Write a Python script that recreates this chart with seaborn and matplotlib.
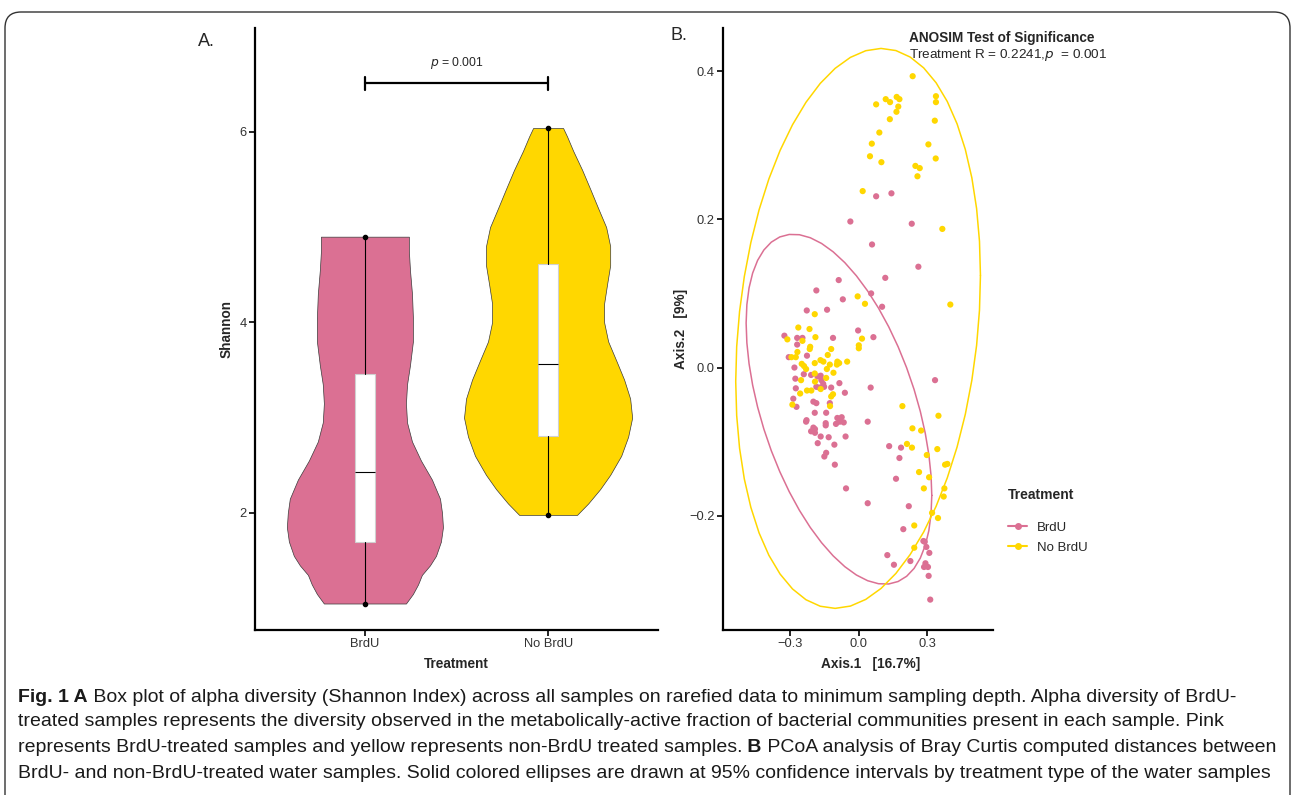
import numpy as np
import pandas as pd
import matplotlib
matplotlib.use("Agg")
import matplotlib.pyplot as plt
import seaborn as sns
from matplotlib.patches import FancyBboxPatch
from matplotlib.lines import Line2D
from matplotlib.transforms import IdentityTransform

# ---------------- Panel A data (Shannon violin profiles + box stats) ----------------
groups = ["BrdU", "No BrdU"]
brdu_levels = [1.05, 1.15, 1.25, 1.35, 1.45, 1.55, 1.70, 1.85, 2.00, 2.15, 2.35, 2.55,
               2.75, 2.95, 3.15, 3.35, 3.55, 3.80, 4.05, 4.30, 4.55, 4.75, 4.90]
brdu_halfwidth = [0.224, 0.262, 0.290, 0.311, 0.355, 0.388, 0.415, 0.426, 0.421, 0.410, 0.366, 0.306,
                  0.257, 0.230, 0.224, 0.230, 0.246, 0.262, 0.262, 0.257, 0.246, 0.240, 0.240]
nobrdu_levels = [1.98, 2.10, 2.25, 2.40, 2.60, 2.80, 3.00, 3.20, 3.40, 3.60, 3.80, 4.00,
                 4.20, 4.40, 4.60, 4.80, 5.00, 5.20, 5.40, 5.60, 5.80, 5.95, 6.04]
nobrdu_halfwidth = [0.158, 0.219, 0.284, 0.339, 0.399, 0.437, 0.459, 0.448, 0.415, 0.372, 0.328, 0.306,
                    0.306, 0.322, 0.339, 0.339, 0.317, 0.273, 0.230, 0.186, 0.137, 0.104, 0.082]
box_min = [1.05, 1.98]
box_q1 = [1.70, 2.81]
box_med = [2.43, 3.56]
box_q3 = [3.46, 4.61]
box_max = [4.90, 6.04]
p_label = "0.001"

# ---------------- Panel B data (PCoA coordinates) ----------------
brdu_ax1 = [0.077, 0.144, -0.036, 0.233, 0.059, 0.262, -0.087, 0.117, -0.069, 0.055, 0.103, -0.185,
            -0.138, -0.227, -0.002, -0.325, -0.269, -0.246, -0.112, 0.065, -0.269, -0.226, -0.306, -0.281,
            -0.240, -0.208, -0.180, -0.166, -0.277, -0.163, -0.155, -0.084, -0.185, -0.172, -0.151, -0.275,
            -0.120, 0.053, 0.335, -0.060, -0.286, -0.198, -0.185, -0.126, -0.272, -0.192, -0.142, -0.093,
            -0.074, -0.082, -0.065, -0.099, -0.144, -0.230, -0.228, -0.144, 0.040, -0.198, -0.208, -0.191,
            -0.191, -0.166, -0.131, -0.057, -0.179, -0.106, 0.134, 0.186, -0.142, -0.150, 0.179, -0.104,
            0.164, -0.055, 0.040, 0.220, 0.196, 0.284, 0.290, 0.297, 0.310, 0.126, 0.227, 0.155,
            0.293, 0.287, 0.304, 0.307, 0.314]
brdu_ax2 = [0.231, 0.235, 0.197, 0.194, 0.166, 0.136, 0.118, 0.121, 0.092, 0.100, 0.082, 0.104,
            0.078, 0.077, 0.050, 0.043, 0.040, 0.040, 0.040, 0.041, 0.031, 0.016, 0.014, 0.000,
            -0.009, -0.010, -0.012, -0.011, -0.015, -0.017, -0.022, -0.021, -0.026, -0.027, -0.026, -0.028,
            -0.027, -0.027, -0.017, -0.034, -0.042, -0.046, -0.048, -0.048, -0.053, -0.061, -0.061, -0.068,
            -0.067, -0.073, -0.074, -0.076, -0.075, -0.073, -0.071, -0.078, -0.073, -0.081, -0.086, -0.088,
            -0.083, -0.093, -0.094, -0.093, -0.102, -0.104, -0.106, -0.108, -0.115, -0.120, -0.122, -0.131,
            -0.150, -0.163, -0.183, -0.187, -0.218, -0.234, -0.235, -0.242, -0.250, -0.253, -0.261, -0.266,
            -0.264, -0.269, -0.269, -0.281, -0.313]
nobrdu_ax1 = [0.237, 0.339, 0.339, 0.167, 0.179, 0.119, 0.138, 0.077, 0.174, 0.166, 0.137, 0.334,
              0.091, 0.058, 0.306, 0.050, 0.338, 0.100, 0.249, 0.268, 0.258, 0.018, 0.367, -0.004,
              0.028, 0.402, -0.192, -0.264, -0.215, -0.312, -0.246, -0.189, 0.015, -0.212, -0.214, 0.001,
              0.001, -0.120, -0.268, -0.275, -0.135, -0.294, -0.167, -0.154, -0.093, -0.085, -0.095, -0.050,
              -0.249, -0.192, -0.239, -0.126, -0.230, -0.139, -0.110, -0.192, -0.252, -0.191, -0.142, -0.226,
              -0.207, -0.166, -0.256, -0.112, -0.120, -0.290, -0.125, 0.192, 0.350, 0.236, 0.274, 0.212,
              0.234, 0.345, 0.299, 0.265, 0.379, 0.389, 0.309, 0.286, 0.376, 0.373, 0.322, 0.348,
              0.244, 0.244]
nobrdu_ax2 = [0.393, 0.366, 0.358, 0.365, 0.362, 0.362, 0.358, 0.355, 0.352, 0.345, 0.335, 0.333,
              0.317, 0.302, 0.301, 0.285, 0.282, 0.277, 0.272, 0.269, 0.258, 0.238, 0.187, 0.096,
              0.086, 0.085, 0.072, 0.054, 0.052, 0.038, 0.036, 0.041, 0.039, 0.028, 0.025, 0.030,
              0.026, 0.025, 0.021, 0.014, 0.017, 0.014, 0.010, 0.008, 0.008, 0.006, 0.004, 0.008,
              0.005, 0.006, 0.002, 0.004, -0.002, -0.002, -0.007, -0.008, -0.017, -0.019, -0.014, -0.031,
              -0.031, -0.029, -0.035, -0.036, -0.039, -0.050, -0.052, -0.052, -0.065, -0.082, -0.085, -0.103,
              -0.108, -0.110, -0.118, -0.141, -0.131, -0.130, -0.148, -0.163, -0.163, -0.174, -0.196, -0.203,
              -0.213, -0.243]
anosim_R = "0.2241"
anosim_p = "0.001"

PINK = "#DB7093"
GOLD = "#FFD700"
colors = {"BrdU": PINK, "No BrdU": GOLD}

sns.set_theme(style="ticks")
plt.rcParams["font.family"] = ["Liberation Sans", "DejaVu Sans"]

W, H = 1292, 795
fig = plt.figure(figsize=(W / 100, H / 100), dpi=100)
fig.patch.set_facecolor("white")


def px_axes(l, t, r, b):
    return fig.add_axes([l / W, 1 - b / H, (r - l) / W, (b - t) / H])


def style_axes(ax):
    for s in ["top", "right"]:
        ax.spines[s].set_visible(False)
    for s in ["left", "bottom"]:
        ax.spines[s].set_linewidth(1.6)
        ax.spines[s].set_color("black")
    ax.tick_params(axis="both", length=4, width=1.2, color="black",
                   labelsize=9.3, labelcolor="#333333", pad=2)
    ax.grid(False)
    ax.set_facecolor("white")


# ---------------- Panel A ----------------
axA = px_axes(255, 28, 658, 630)
style_axes(axA)
profiles = [(brdu_levels, brdu_halfwidth), (nobrdu_levels, nobrdu_halfwidth)]
for i, (lv, hw) in enumerate(profiles):
    lv = np.asarray(lv)
    hw = np.asarray(hw)
    axA.fill_betweenx(lv, i - hw, i + hw, facecolor=colors[groups[i]],
                      edgecolor="#3a3a3a", linewidth=0.5, zorder=2)
stats = [dict(med=box_med[i], q1=box_q1[i], q3=box_q3[i], whislo=box_min[i],
              whishi=box_max[i], fliers=[]) for i in range(2)]
axA.bxp(stats, positions=[0, 1], widths=0.105, showcaps=False, patch_artist=True,
        boxprops=dict(facecolor="white", edgecolor="#d0d0d0", linewidth=0.8),
        medianprops=dict(color="black", linewidth=0.8),
        whiskerprops=dict(color="black", linewidth=0.8), manage_ticks=False, zorder=3)
axA.scatter([0, 0, 1, 1], [box_min[0], box_max[0], box_min[1], box_max[1]],
            s=9, color="black", zorder=4)
axA.set_xlim(-0.6, 1.6)
axA.set_ylim(0.772, 7.09)
axA.set_xticks([0, 1])
axA.set_xticklabels(groups)
axA.set_yticks([2, 4, 6])
axA.set_xlabel("Treatment", fontsize=9.8, fontweight="bold", labelpad=5)
axA.set_ylabel("Shannon", fontsize=9.8, fontweight="bold", labelpad=4)
# significance bracket
yb = 6.51
axA.plot([0, 1], [yb, yb], color="black", lw=1.6, zorder=5)
axA.plot([0, 0], [yb - 0.07, yb + 0.07], color="black", lw=1.6)
axA.plot([1, 1], [yb - 0.07, yb + 0.07], color="black", lw=1.6)
axA.text(0.5, yb + 0.13, "$\\it{p}$ = " + p_label, ha="center", va="bottom", fontsize=8.8)
fig.text(198 / W, 1 - 42 / H, "A.", fontsize=13, ha="left", va="center")

# ---------------- Panel B ----------------
axB = px_axes(723, 28, 993, 630)
style_axes(axB)
df = pd.DataFrame({
    "Axis.1": brdu_ax1 + nobrdu_ax1,
    "Axis.2": brdu_ax2 + nobrdu_ax2,
    "Treatment": ["BrdU"] * len(brdu_ax1) + ["No BrdU"] * len(nobrdu_ax1),
})
sns.scatterplot(data=df, x="Axis.1", y="Axis.2", hue="Treatment", palette=colors,
                s=20, linewidth=0, legend=False, ax=axB, zorder=3)


def cov_trob(x, nu=5, maxit=25, tol=0.01):
    n, p = x.shape
    wt = np.ones(n)
    loc = x.mean(axis=0)
    w = np.sqrt(wt)
    for _ in range(maxit):
        w0 = w
        X = x - loc
        u, d, vt = np.linalg.svd(np.sqrt(w / w.sum())[:, None] * X, full_matrices=False)
        wX = X @ vt.T @ np.diag(1 / d)
        Q = (wX ** 2).sum(axis=1)
        w = (wt * (nu + p)) / (nu + Q)
        loc = (w[:, None] * x).sum(axis=0) / w.sum()
        if np.all(np.abs(w - w0) < tol):
            break
    X = x - loc
    cov = (np.sqrt(w)[:, None] * X).T @ (np.sqrt(w)[:, None] * X) / wt.sum()
    return loc, cov


def stat_ellipse(xv, yv, level=0.95, segments=51):
    data = np.column_stack([xv, yv])
    n = len(data)
    loc, cov = cov_trob(data)
    dfd = n - 1
    fq = (dfd / 2) * ((1 - level) ** (-2 / dfd) - 1)
    radius = np.sqrt(2 * fq)
    ang = np.linspace(0, 2 * np.pi, segments)
    circle = np.column_stack([np.cos(ang), np.sin(ang)])
    chol = np.linalg.cholesky(cov).T
    pts = loc + radius * circle @ chol
    return pts[:, 0], pts[:, 1]


for name, xs, ys in [("BrdU", brdu_ax1, brdu_ax2), ("No BrdU", nobrdu_ax1, nobrdu_ax2)]:
    ex, ey = stat_ellipse(np.array(xs), np.array(ys))
    axB.plot(ex, ey, color=colors[name], lw=1.1, zorder=2)

axB.set_xlim(-0.594, 0.589)
axB.set_ylim(-0.354, 0.458)
axB.set_xticks([-0.3, 0.0, 0.3])
axB.set_xticklabels(["\u22120.3", "0.0", "0.3"])
axB.set_yticks([-0.2, 0.0, 0.2, 0.4])
axB.set_yticklabels(["\u22120.2", "0.0", "0.2", "0.4"])
axB.set_xlabel("Axis.1   [16.7%]", fontsize=9.8, fontweight="bold", labelpad=5)
axB.xaxis.set_label_coords(0.545, -0.045)
axB.set_ylabel("Axis.2   [9%]", fontsize=9.8, fontweight="bold", labelpad=1)
fig.text(671 / W, 1 - 36 / H, "B.", fontsize=13, ha="left", va="center")
fig.text(909 / W, 1 - 38 / H, "ANOSIM Test of Significance", fontsize=9.8,
         fontweight="bold", ha="left", va="center")
fig.text(909 / W, 1 - 55 / H, "Treatment R = " + anosim_R + ",$\\it{p}$  = " + anosim_p,
         fontsize=9.7, ha="left", va="center")

handles = [Line2D([0], [0], color=colors[g], marker="o", markersize=4, lw=1.5) for g in groups]
leg = fig.legend(handles, groups, loc="upper left", bbox_to_anchor=(1003 / W, 1 - 483 / H),
                 frameon=False, fontsize=9.5, title="Treatment", handlelength=1.4,
                 handletextpad=0.8, labelspacing=0.6, borderaxespad=0)
leg.get_title().set_fontweight("bold")
leg.get_title().set_fontsize(10)
leg._legend_box.align = "left"
leg._legend_box.sep = 14

# ---------------- Outer frame ----------------
frame = FancyBboxPatch((5, -30), 1285, H - 12 + 30,
                       boxstyle="round,pad=0,rounding_size=16",
                       transform=IdentityTransform(), fill=False,
                       edgecolor="#333333", linewidth=1.0)
fig.add_artist(frame)

# ---------------- Caption ----------------
cap_font = ["Liberation Sans Narrow", "Liberation Sans", "DejaVu Sans"]
cap_size = 14.0
caption_lines = [
    [("Fig. 1 A", True), (" Box plot of alpha diversity (Shannon Index) across all samples on rarefied data to minimum sampling depth. Alpha diversity of BrdU-", False)],
    [("treated samples represents the diversity observed in the metabolically-active fraction of bacterial communities present in each sample. Pink", False)],
    [("represents BrdU-treated samples and yellow represents non-BrdU treated samples.", False), (" B", True), (" PCoA analysis of Bray Curtis computed distances between", False)],
    [("BrdU- and non-BrdU-treated water samples. Solid colored ellipses are drawn at 95% confidence intervals by treatment type of the water samples", False)],
]
cap_y = [697, 722, 748, 773]
renderer = fig.canvas.get_renderer()
for parts, yy in zip(caption_lines, cap_y):
    x = 18
    for txt, bold in parts:
        t = fig.text(x / W, 1 - yy / H, txt, fontsize=cap_size, family=cap_font,
                     fontweight="bold" if bold else "normal", color="#1a1a1a",
                     ha="left", va="center")
        bb = t.get_window_extent(renderer)
        x += bb.width

fig.savefig("out.png", dpi=100, facecolor="white")
